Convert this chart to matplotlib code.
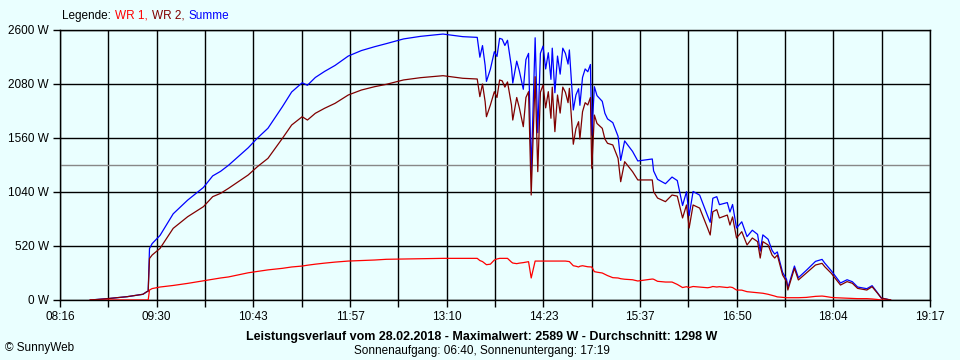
import matplotlib
matplotlib.use("Agg")
import matplotlib.pyplot as plt
import numpy as np

# Messzeitpunkte (Uhrzeit) und Leistung in W
zeiten = ["08:39", "08:52", "09:07", "09:19", "09:22", "09:23", "09:24", "09:26", "09:32", "09:42",
          "09:53", "10:05", "10:12", "10:18", "10:24", "10:39", "10:46", "10:54", "11:05", "11:12",
          "11:20", "11:24", "11:30", "11:37", "11:45", "11:55", "12:05", "12:15", "12:24", "12:37",
          "12:50", "13:07", "13:22", "13:33", "13:35", "13:37", "13:39", "13:40", "13:43", "13:46",
          "13:48", "13:50", "13:52", "13:54", "13:56", "13:59", "14:00", "14:03", "14:05", "14:08",
          "14:10", "14:12", "14:14", "14:17", "14:19", "14:21", "14:23", "14:25", "14:27", "14:29",
          "14:30", "14:32", "14:34", "14:36", "14:38", "14:40", "14:42", "14:43", "14:46", "14:48",
          "14:50", "14:51", "14:53", "14:55", "14:57", "14:59", "15:00", "15:02", "15:04", "15:08",
          "15:10", "15:12", "15:16", "15:20", "15:22", "15:25", "15:31", "15:35", "15:46", "15:47",
          "15:50", "15:56", "16:01", "16:05", "16:09", "16:12", "16:14", "16:17", "16:22", "16:28",
          "16:30", "16:32", "16:35", "16:37", "16:43", "16:45", "16:47", "16:50", "16:54", "16:58",
          "17:02", "17:06", "17:08", "17:10", "17:14", "17:17", "17:19", "17:21", "17:25", "17:28",
          "17:29", "17:34", "17:37", "17:43", "17:50", "17:55", "17:57", "18:02", "18:05", "18:09",
          "18:14", "18:18", "18:22", "18:29", "18:33", "18:37", "18:40", "18:47"]

wr1 = [0, 0, 0, 0, 0, 0, 96, 110, 125, 140,
       160, 185, 200, 212, 222, 262, 275, 290, 305, 318,
       327, 335, 345, 355, 365, 375, 380, 385, 392, 395,
       398, 401, 401, 401, 380, 370, 350, 340, 345, 385,
       395, 401, 401, 401, 401, 365, 356, 350, 355, 360,
       365, 369, 212, 375, 375, 375, 375, 375, 375, 375,
       375, 375, 375, 375, 375, 375, 372, 370, 330, 325,
       318, 325, 330, 325, 320, 318, 318, 273, 268, 260,
       248, 235, 215, 212, 205, 200, 195, 183, 202, 200,
       180, 173, 173, 150, 120, 128, 120, 130, 125, 118,
       122, 130, 125, 128, 120, 125, 120, 96, 95, 80,
       75, 70, 67, 65, 55, 45, 38, 30, 25, 22,
       22, 22, 22, 25, 35, 38, 35, 25, 22, 20,
       18, 15, 13, 13, 10, 5, 0, 0]

wr2 = [0, 13, 32, 55, 80, 85, 400, 433, 497, 690,
       802, 899, 995, 1027, 1075, 1204, 1284, 1364, 1557, 1685,
       1765, 1733, 1798, 1846, 1894, 1974, 2022, 2054, 2077, 2119,
       2141, 2160, 2135, 2128, 1958, 2080, 1910, 1765, 1878, 2006,
       1950, 2119, 2110, 2050, 2100, 1878, 1733, 1950, 1850, 1669,
       1950, 2006, 1011, 2150, 1236, 2000, 2070, 1850, 2006, 1750,
       2050, 1621, 1974, 1800, 2050, 2000, 1900, 2038, 1500, 1650,
       1717, 1550, 1813, 1900, 1878, 1950, 1268, 1781, 1700, 1653,
       1550, 1509, 1493, 1364, 1139, 1332, 1236, 1156, 1156, 1043,
       982, 947, 1011, 1000, 790, 915, 693, 915, 885, 693,
       626, 850, 870, 790, 818, 722, 800, 597, 658, 530,
       597, 562, 404, 562, 530, 433, 404, 433, 241, 177,
       96, 305, 193, 260, 337, 353, 321, 257, 209, 144,
       177, 161, 112, 96, 128, 67, 19, 0]

durchschnitt = 1298
y_ticks = [0, 520, 1040, 1560, 2080, 2600]
x_labels = ["08:16", "09:30", "10:43", "11:57", "13:10", "14:23", "15:37", "16:50", "18:04", "19:17"]

def minuten(t):
    h, m = t.split(":")
    return int(h) * 60 + int(m)

x = np.array([minuten(t) for t in zeiten])
summe = np.array(wr1) + np.array(wr2)

bg = "#eaffff"
plt.rcParams["font.family"] = ["Liberation Sans", "DejaVu Sans"]

fig = plt.figure(figsize=(9.6, 3.6), dpi=100, facecolor=bg)
ax = fig.add_axes([60 / 960, 60 / 360, 870 / 960, 270 / 360])
ax.set_facecolor(bg)

x0 = minuten(x_labels[0])
x1 = minuten(x_labels[-1])
ax.set_xlim(x0, x1)
ax.set_ylim(0, 2600)

# Gitter
major = np.linspace(x0, x1, len(x_labels))
minor = np.linspace(x0, x1, 2 * len(x_labels) - 1)
for gx in minor:
    ax.axvline(gx, color="black", lw=1.0, zorder=1)
for gy in y_ticks:
    ax.axhline(gy, color="black", lw=1.0, zorder=1)
ax.axhline(durchschnitt, color="#888888", lw=1.0, zorder=1)

# Kurven
ax.plot(x, wr1, color="#ff0000", lw=0.9, zorder=3)
ax.plot(x, wr2, color="#800000", lw=0.9, zorder=3)
ax.plot(x, summe, color="#0000ff", lw=0.9, zorder=2)

ax.set_xticks(major)
ax.set_xticklabels(x_labels)
ax.set_xticks(minor, minor=True)
ax.set_yticks(y_ticks)
ax.set_yticklabels([f"{v} W" for v in y_ticks])
ax.tick_params(axis="both", which="both", length=5, width=1, labelsize=8.5, colors="black", pad=3)
for s in ax.spines.values():
    s.set_color("black")
    s.set_linewidth(1.0)

# Legende oben, Teile nebeneinander
r = fig.canvas.get_renderer()
xp = 62
parts = [("Legende:", "black"), ("WR 1,", "#ff0000"), ("WR 2,", "#800000"), ("Summe", "#0000ff")]
for txt, col in parts:
    t = fig.text(xp / 960, 1 - 16 / 360, txt, fontsize=8.5, color=col, va="center", ha="left")
    xp += t.get_window_extent(renderer=r).width + 4

fig.text(482 / 960, 1 - 337 / 360,
         "Leistungsverlauf vom 28.02.2018 - Maximalwert: 2589 W - Durchschnitt: 1298 W",
         fontsize=9, fontweight="bold", ha="center", va="center")
fig.text(482 / 960, 1 - 351 / 360, "Sonnenaufgang: 06:40, Sonnenuntergang: 17:19",
         fontsize=8.5, ha="center", va="center")
fig.text(5 / 960, 1 - 348 / 360, "© SunnyWeb", fontsize=8.5, ha="left", va="center")

fig.savefig("out.png", dpi=100, facecolor=bg)
